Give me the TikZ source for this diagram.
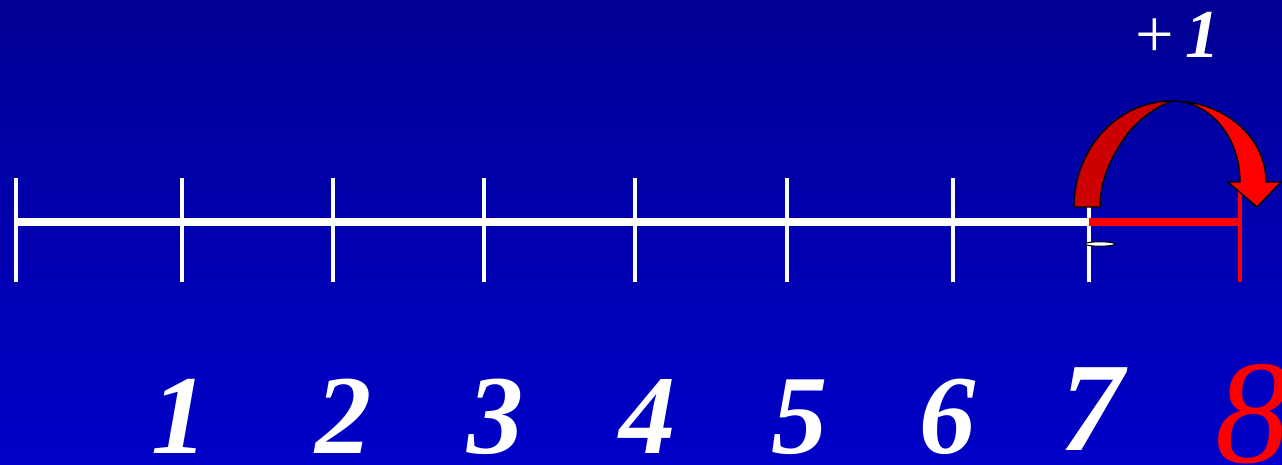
\documentclass[tikz,border=0pt]{standalone}
\usepackage{fontspec}
\setmainfont{Liberation Serif}
\usepackage{xcolor}
\usetikzlibrary{calc, positioning}

\definecolor{bgtop}{RGB}{0,0,148}
\definecolor{bgbot}{RGB}{0,0,200}
\definecolor{darkred}{RGB}{204,0,0}

\begin{document}
\begin{tikzpicture}[x=0.02cm, y=-0.02cm]

    % =================================================================
    % 1. NỀN
    % =================================================================
    \useasboundingbox (0,0) rectangle (1282,464);
    \clip (0,0) rectangle (1282,464);
    \shade[top color=bgtop, bottom color=bgbot] (0,0) rectangle (1282,464);

    \tikzset{
        digit/.style={anchor=base, text=white, font=\fontsize{64}{68}\selectfont\bfseries\itshape, inner sep=0pt},
        tickline/.style={white, line width=2.3pt},
        axisline/.style={line width=4.5pt}
    }

    % =================================================================
    % 2. TỌA ĐỘ CÁC ĐIỂM CHÍNH
    % =================================================================
    \coordinate (O) at (16,222);
    \coordinate (P7) at (1089,222);
    \coordinate (P8) at (1240,222);
    \coordinate (Top) at (1172,101);

    % =================================================================
    % 3. TRỤC SỐ
    % =================================================================
    \foreach \x in {16,182,333,484,635,787,953,1089}
        \draw[tickline] (\x,178) -- (\x,282);
    \draw[axisline, white] (O) -- (P7);
    \draw[axisline, red] (P7) -- (P8);
    \draw[red, line width=2.3pt] (1240,182) -- (1240,282);

    % =================================================================
    % 4. MŨI TÊN CONG (+1)
    % =================================================================
    % nửa trái (đỏ sẫm)
    \draw[line width=0.8pt, fill=darkred] (1074,207)
        .. controls (1074,148) and (1118,101) .. (Top)
        .. controls (1158,106) and (1140,118) .. (1128,133)
        .. controls (1110,158) and (1100,180) .. (1100,207)
        -- cycle;
    % nửa phải (đỏ) với đầu mũi tên
    \draw[line width=0.8pt, fill=red] (Top)
        .. controls (1224,101) and (1266,137) .. (1266,182)
        -- (1281,182) -- (1257,207) -- (1228,182) -- (1240,182)
        .. controls (1240,137) and (1210,101) .. (Top)
        -- cycle;

    \draw[black, fill=white, line width=0.6pt] (1100,244) ellipse (15 and 2.2);

    % =================================================================
    % 5. NHÃN
    % =================================================================
    \node[text=white, font=\fontsize{39}{42}\selectfont] (plus) at (1178,35) {+\,\textbf{\textit{1}}};

    \node[digit] (n1) at (180,453) {1};
    \node[digit] (n2) at (344,453) {2};
    \node[digit] (n3) at (496,453) {3};
    \node[digit] (n4) at (648,453) {4};
    \node[digit] (n5) at (800,453) {5};
    \node[digit] (n6) at (948,453) {6};
    \node[digit, font=\fontsize{72}{76}\selectfont\bfseries\itshape] (n7) at (1092,450) {7};
    \node[digit, text=red, font=\fontsize{84}{88}\selectfont\itshape] (n8) at (1252,462) {8};

\end{tikzpicture}
\end{document}
